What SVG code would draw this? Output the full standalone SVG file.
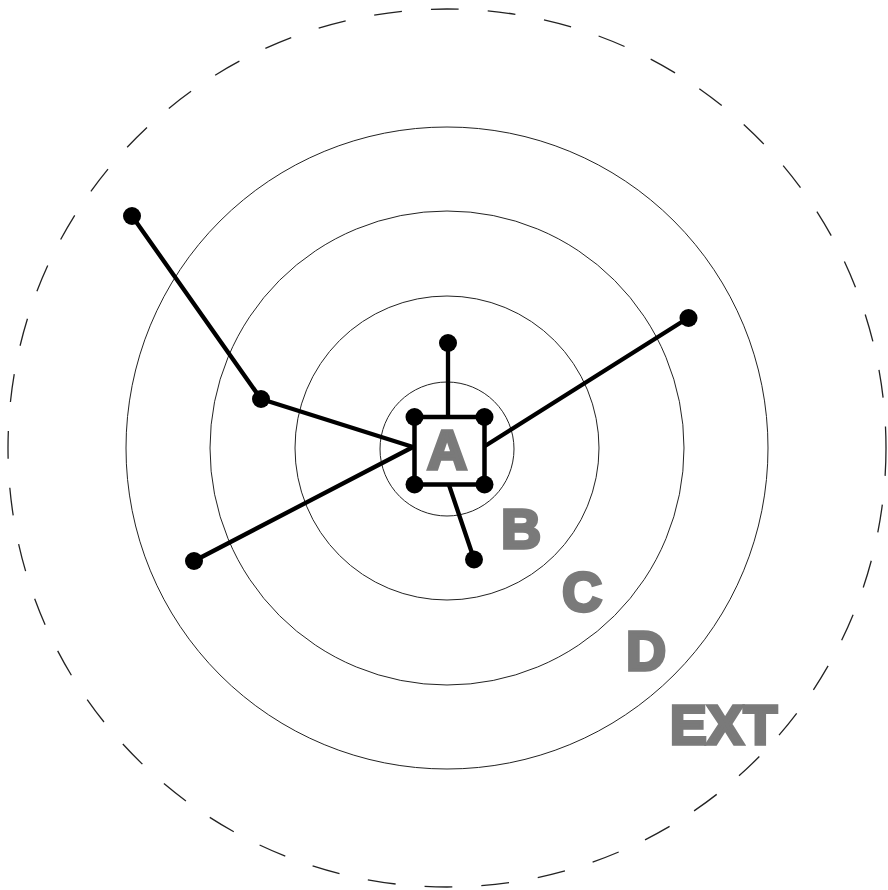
<svg xmlns="http://www.w3.org/2000/svg" width="888" height="890" viewBox="0 0 888 890">
<style>
.ring{fill:none;stroke:#222;stroke-width:1}
.lbl{font-family:"Liberation Sans",Arial,sans-serif;font-weight:bold;font-size:55px;fill:#7a7a7a;stroke:#7a7a7a;stroke-width:3.6;stroke-linejoin:miter;text-anchor:middle}
.link{fill:none;stroke:#000;stroke-width:4.3;stroke-linecap:round}
.dot{fill:#000}
</style>
<rect width="888" height="890" fill="#fff"/>
<g id="rings">
<circle id="ring-ext" cx="447" cy="448" r="439" fill="none" stroke="#222" stroke-width="1.3" stroke-dasharray="28 29"/>
<circle id="ring-d" class="ring" cx="447" cy="448" r="321"/>
<circle id="ring-c" class="ring" cx="447" cy="448" r="237"/>
<circle id="ring-b" class="ring" cx="447" cy="448" r="152" stroke="#000" stroke-width="1.6"/>
<circle id="ring-a" class="ring" cx="447" cy="449" r="67" stroke="#555"/>
</g>
<g id="connectors">
<line class="link" x1="448" y1="343" x2="448" y2="417" stroke-width="3.4"/>
<line class="link" x1="449" y1="485" x2="474" y2="559"/>
<line class="link" x1="485" y1="446" x2="688" y2="318"/>
<line class="link" x1="413" y1="447" x2="194" y2="561"/>
<polyline class="link" points="413,447 261,399 132,216"/>
</g>
<g id="node-a">
<rect x="414.5" y="417" width="70" height="67.5" fill="#fff" stroke="#000" stroke-width="4.5"/>
<circle class="dot" cx="414.5" cy="417" r="9"/>
<circle class="dot" cx="484.5" cy="417" r="9"/>
<circle class="dot" cx="414.5" cy="484.5" r="9"/>
<circle class="dot" cx="484.5" cy="484.5" r="9"/>
<text class="lbl" x="447" y="469">A</text>
</g>
<g id="node-top"><circle class="dot" cx="448" cy="343" r="9"/></g>
<g id="node-bottom"><circle class="dot" cx="474" cy="559.5" r="9"/></g>
<g id="node-right"><circle class="dot" cx="688.5" cy="318" r="9"/></g>
<g id="node-left"><circle class="dot" cx="194" cy="561" r="9"/></g>
<g id="node-mid"><circle class="dot" cx="261" cy="399" r="9"/></g>
<g id="node-far"><circle class="dot" cx="132" cy="216" r="9"/></g>
<g id="labels">
<text class="lbl" x="521" y="548">B</text>
<text class="lbl" x="582" y="611">C</text>
<text class="lbl" x="646" y="669.5">D</text>
<text class="lbl" x="723.5" y="744">EXT</text>
</g>
</svg>
